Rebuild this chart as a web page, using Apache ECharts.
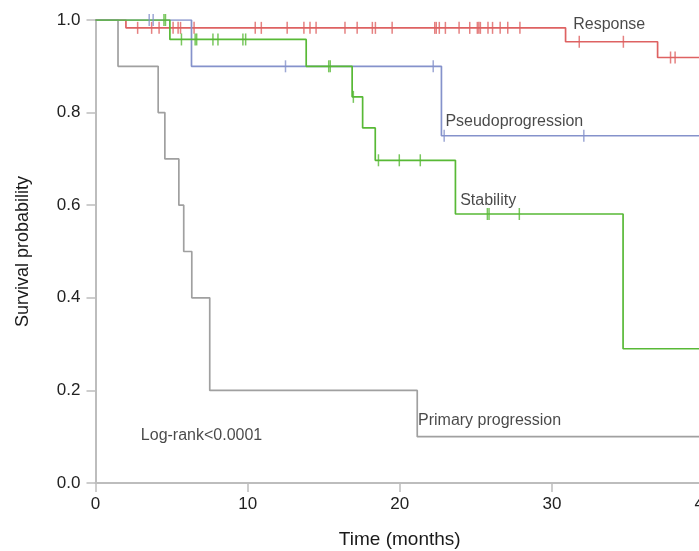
<!DOCTYPE html>
<html>
<head>
<meta charset="utf-8">
<script src="https://cdn.jsdelivr.net/npm/echarts@6/dist/echarts.min.js"></script>
<style>
html,body{margin:0;padding:0;background:#fff;}
#c{width:699px;height:551px;}
</style>
</head>
<body>
<div id="c"></div>
<script>
// ---- Data ----
const xTicks = [0, 10, 20, 30, 40];
const yTicks = [0.0, 0.2, 0.4, 0.6, 0.8, 1.0];

// Response
const respTimes = [0, 2.0, 30.9, 36.95, 42];
const respSurv  = [1.0, 0.983, 0.953, 0.919, 0.919];
const respCens  = [2.77, 3.69, 4.18, 5.10, 5.43, 5.59, 6.48, 10.5, 10.9, 12.6, 13.7, 14.1, 14.5,
                   16.4, 17.2, 18.2, 18.4, 19.5, 22.3, 22.4, 22.6, 23.0, 23.9, 24.6, 25.1, 25.2, 25.3,
                   25.8, 26.1, 26.6, 27.1, 27.9, 31.8, 34.7, 37.8, 38.1];

// Pseudoprogression
const pseudoTimes = [0, 6.31, 22.74, 42];
const pseudoSurv  = [1.0, 0.9, 0.75, 0.75];
const pseudoCens  = [3.53, 3.79, 12.49, 22.2, 22.92, 32.1];

// Stability
const stabTimes = [0, 4.89, 13.85, 16.87, 17.56, 18.39, 23.66, 34.68, 42];
const stabSurv  = [1.0, 0.958, 0.9, 0.834, 0.767, 0.697, 0.581, 0.29, 0.29];
const stabCens  = [4.5, 4.6, 5.65, 6.55, 6.65, 7.72, 8.05, 9.69, 9.87, 15.33, 15.43, 16.95,
                   18.6, 19.97, 21.35, 25.76, 25.87, 27.86];

// Primary progression
const primTimes = [0, 1.48, 4.12, 4.56, 5.48, 5.8, 6.33, 7.51, 21.15, 42];
const primSurv  = [1.0, 0.9, 0.8, 0.7, 0.6, 0.5, 0.4, 0.2, 0.1, 0.1];
const primCens  = [];

// Curve labels: [text, time, survival]
const curveLabels = [
  ['Response', 31.4, 0.989],
  ['Pseudoprogression', 23.0, 0.78],
  ['Stability', 23.97, 0.609],
  ['Primary progression', 21.2, 0.134],
  ['Log-rank<0.0001', 2.98, 0.1015]
];

// ---- Styling ----
const FONT = '"Liberation Sans", Arial, Helvetica, sans-serif';
const colors = {
  resp: '#de6262',
  pseudo: '#8592cb',
  stab: '#58b936',
  prim: '#a0a0a0'
};

function survAt(times, surv, t) {
  let s = surv[0];
  for (let i = 0; i < times.length; i++) { if (times[i] <= t) s = surv[i]; }
  return s;
}
function stepSeries(name, times, surv, color) {
  return {
    name: name, type: 'line', step: 'end', symbol: 'none',
    data: times.map((t, i) => [t, surv[i]]),
    lineStyle: { color: color, width: 1.7 },
    itemStyle: { color: color },
    animation: false, z: 2
  };
}
function censSeries(name, times, surv, cens, color) {
  return {
    name: name + ' censored', type: 'scatter', symbol: 'rect', symbolSize: [1.5, 12],
    data: cens.map(t => [t, survAt(times, surv, t)]),
    itemStyle: { color: color },
    animation: false, z: 3
  };
}

const chart = echarts.init(document.getElementById('c'), null, { renderer: 'canvas' });
const option = {
  backgroundColor: '#fff',
  grid: { left: 95.5, right: -5, top: 20, bottom: 68, containLabel: false, outerBoundsMode: 'none' },
  xAxis: {
    type: 'value', min: xTicks[0], max: xTicks[xTicks.length - 1], interval: 10,
    name: 'Time (months)', nameLocation: 'middle', nameGap: 47,
    nameTextStyle: { fontFamily: FONT, fontSize: 19, color: '#1a1a1a' },
    axisLine: { show: true, lineStyle: { color: '#bdbdbd', width: 2 } },
    axisTick: { show: true, length: 9, lineStyle: { color: '#bdbdbd', width: 1.5 } },
    axisLabel: { fontFamily: FONT, fontSize: 17, color: '#222', margin: 13 },
    splitLine: { show: false }
  },
  yAxis: {
    type: 'value', min: yTicks[0], max: yTicks[yTicks.length - 1], interval: 0.2,
    name: 'Survival probability', nameLocation: 'middle', nameGap: 63, nameRotate: 90,
    nameTextStyle: { fontFamily: FONT, fontSize: 18, color: '#1a1a1a' },
    axisLine: { show: true, lineStyle: { color: '#bdbdbd', width: 2 } },
    axisTick: { show: true, length: 9, lineStyle: { color: '#bdbdbd', width: 1.5 } },
    axisLabel: { fontFamily: FONT, fontSize: 17, color: '#222', margin: 15, formatter: v => v.toFixed(1) },
    splitLine: { show: false }
  },
  series: [
    stepSeries('Response', respTimes, respSurv, colors.resp),
    stepSeries('Primary progression', primTimes, primSurv, colors.prim),
    stepSeries('Pseudoprogression', pseudoTimes, pseudoSurv, colors.pseudo),
    stepSeries('Stability', stabTimes, stabSurv, colors.stab),
    censSeries('Response', respTimes, respSurv, respCens, colors.resp),
    censSeries('Primary progression', primTimes, primSurv, primCens, colors.prim),
    censSeries('Pseudoprogression', pseudoTimes, pseudoSurv, pseudoCens, colors.pseudo),
    censSeries('Stability', stabTimes, stabSurv, stabCens, colors.stab),
    {
      name: 'labels', type: 'scatter', symbolSize: 0, silent: true, animation: false, z: 5,
      data: curveLabels.map(l => ({ value: [l[1], l[2]], name: l[0] })),
      label: {
        show: true, position: [0, 0], align: 'left', verticalAlign: 'middle',
        formatter: p => p.name, fontFamily: FONT, fontSize: 16, color: '#1a1a1a'
      }
    }
  ]
};
chart.setOption(option);
</script>
</body>
</html>
